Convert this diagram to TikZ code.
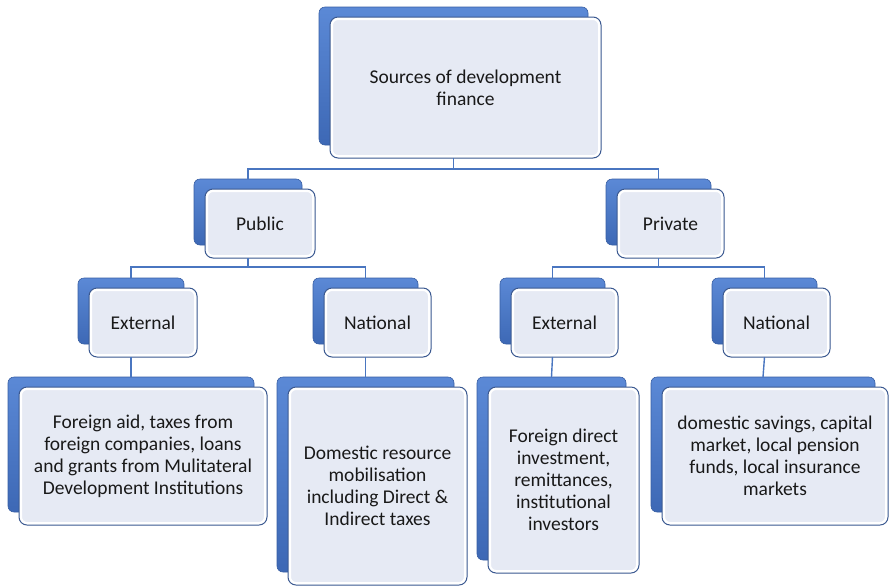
\documentclass[tikz,border=0pt]{standalone}
\usepackage{fontspec}
\setmainfont{Carlito}
\usepackage{tikz}
\usetikzlibrary{positioning,calc}

\definecolor{backlight}{HTML}{5B89D6}
\definecolor{backdark}{HTML}{3D68B5}
\definecolor{edgeblue}{HTML}{3A5890}
\definecolor{frontfill}{HTML}{E6EAF4}
\definecolor{linkblue}{HTML}{4A76C0}

\tikzset{
  backbox/.style={shape=rectangle,rounded corners=6pt,draw=backdark!90!black,line width=0.6pt,
    top color=backlight,bottom color=backdark,inner sep=0pt,outer sep=0pt},
  frontbox/.style={shape=rectangle,rounded corners=8pt,draw=edgeblue,line width=1pt,
    fill=frontfill,inner sep=0pt,outer sep=0pt,align=center,text=black!90,
    font=\fontsize{19.5}{22}\selectfont,
    path picture={\draw[white,line width=6pt]
      (path picture bounding box.south west) rectangle (path picture bounding box.north east);}},
  link/.style={draw=linkblue,line width=1.4pt}
}

% #1 name, #2 #3 top left, #4 #5 bottom right of the front box, #6 text
\newcommand*\finbox[6]{
  \node[backbox,anchor=north west,minimum width={#4-#2-2},minimum height={#5-#3-3}]
    (#1B) at (#2-11,#3-10) {};
  \node[frontbox,minimum width={#4-#2},minimum height={#5-#3}]
    (#1) at ({(#2+#4)/2},{(#3+#5)/2}) {#6};
}

\begin{document}
\begin{tikzpicture}[x=1pt,y=-1pt]
  \useasboundingbox (0,0) rectangle (890,587);

  \finbox{top}{330}{17}{601}{158}{Sources of development\\finance}

  \finbox{pub}{205}{189}{315}{258}{Public}
  \finbox{prv}{617}{189}{724}{258}{Private}

  \finbox{pubext}{89}{288}{197}{357}{External}
  \finbox{pubnat}{324}{288}{431}{357}{National}
  \finbox{prvext}{511}{288}{618}{357}{External}
  \finbox{prvnat}{723}{288}{830}{357}{National}

  \finbox{aid}{19}{387}{267}{525}{Foreign aid, taxes from\\foreign companies, loans\\and grants from Mulitateral\\Development Institutions}
  \finbox{drm}{288}{387}{467}{585}{Domestic resource\\mobilisation\\including Direct \&\\Indirect taxes}
  \finbox{fdi}{488}{387}{639}{573}{Foreign direct\\investment,\\remittances,\\institutional\\investors}
  \finbox{dom}{662}{387}{888}{525}{domestic savings, capital\\market, local pension\\funds, local insurance\\markets}

  \coordinate (bus1) at (0,169);
  \coordinate (bus2) at (0,267);

  \draw[link] (topB |- top.south) -- (topB |- bus1) -| (pubB.north);
  \draw[link] (topB |- bus1) -| (prvB.north);
  \draw[link] (pubB |- pub.south) -- (pubB |- bus2) -| (pubextB.north);
  \draw[link] (pubB |- bus2) -| (pubnatB.north);
  \draw[link] (prvB |- prv.south) -- (prvB |- bus2) -| (prvextB.north);
  \draw[link] (prvB |- bus2) -| (prvnatB.north);
  \draw[link] (pubextB |- pubext.south) -- (aidB.north);
  \draw[link] (pubnatB |- pubnat.south) -- (drmB.north);
  \draw[link] (prvextB |- prvext.south) -- (fdiB.north);
  \draw[link] (prvnatB |- prvnat.south) -- (domB.north);
\end{tikzpicture}
\end{document}
